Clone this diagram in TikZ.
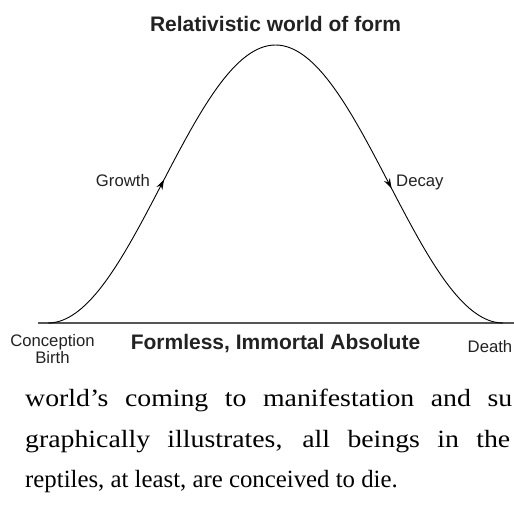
\documentclass[tikz,border=0pt]{standalone}
\usepackage{fontspec}
\setmainfont{Liberation Serif}
\newfontfamily\labelfont{Liberation Sans}
\newfontfamily\widefont[FakeStretch=1.12]{Liberation Serif}
\usetikzlibrary{arrows.meta,decorations.markings}
\definecolor{ink}{HTML}{222222}
\definecolor{axisgray}{HTML}{555555}
\hbadness=10000
\tikzset{
  lbl/.style={font=\labelfont\fontsize{16.7}{17.5}\selectfont, text=ink, inner sep=0pt, align=center},
  ttl/.style={font=\labelfont\bfseries\fontsize{21}{24}\selectfont, text=ink, inner sep=0pt},
  body/.style={font=\fontsize{24.8}{30}\selectfont, text=black, inner sep=0pt, anchor=base west},
  widebody/.style={body, font=\widefont\fontsize{24.8}{30}\selectfont},
  curveline/.style={draw=black, line width=0.9pt},
  axisline/.style={draw=axisgray, line width=1.4pt},
  midarrow/.style={postaction={decorate}, decoration={markings,
      mark=at position 0.5 with {\arrow[xshift=5pt]{Stealth[length=10pt,width=6.5pt]}}}}
}
\begin{document}
\begin{tikzpicture}[x=1pt,y=-1pt]
\useasboundingbox (0,0) rectangle (514,506);
\clip (0,0) rectangle (514,506);
% key points of the curve
\coordinate (start) at (48,323);
\coordinate (grow) at (161.75,184);
\coordinate (peak) at (275.5,45);
\coordinate (decay) at (389.25,184);
\coordinate (finish) at (503,323);
\coordinate (axisL) at (38,323);
\coordinate (axisR) at (514,323);
% axis
\draw[axisline] (axisL) -- (axisR);
% curve
\draw[curveline, midarrow] (start) cos (grow) sin (peak);
\draw[curveline, midarrow] (peak) cos (decay) sin (finish);
% labels
\node[ttl, anchor=base] (title) at (275.5,31) {Relativistic world of form};
\node[lbl, anchor=base east] (growth) at (150,186) {Growth};
\node[lbl, anchor=base west] (decaylbl) at (396,186) {Decay};
\node[lbl, anchor=base] (conc) at (52.5,346) {Conception};
\node[lbl, anchor=base] (birth) at (52.5,363) {Birth};
\node[ttl, anchor=base] (absolute) at (275.5,349) {Formless, Immortal Absolute};
\node[lbl, anchor=base] (death) at (490,352) {Death};
% running text
\node[widebody] (l1) at (25,406) {\hbox to 487pt{world’s coming to manifestation and su}};
\node[widebody] (l2) at (25,447) {\hbox to 485pt{graphically illustrates, all beings in the}};
\node[body] (l3) at (25,487) {reptiles, at least, are conceived to die.};
\end{tikzpicture}
\end{document}
